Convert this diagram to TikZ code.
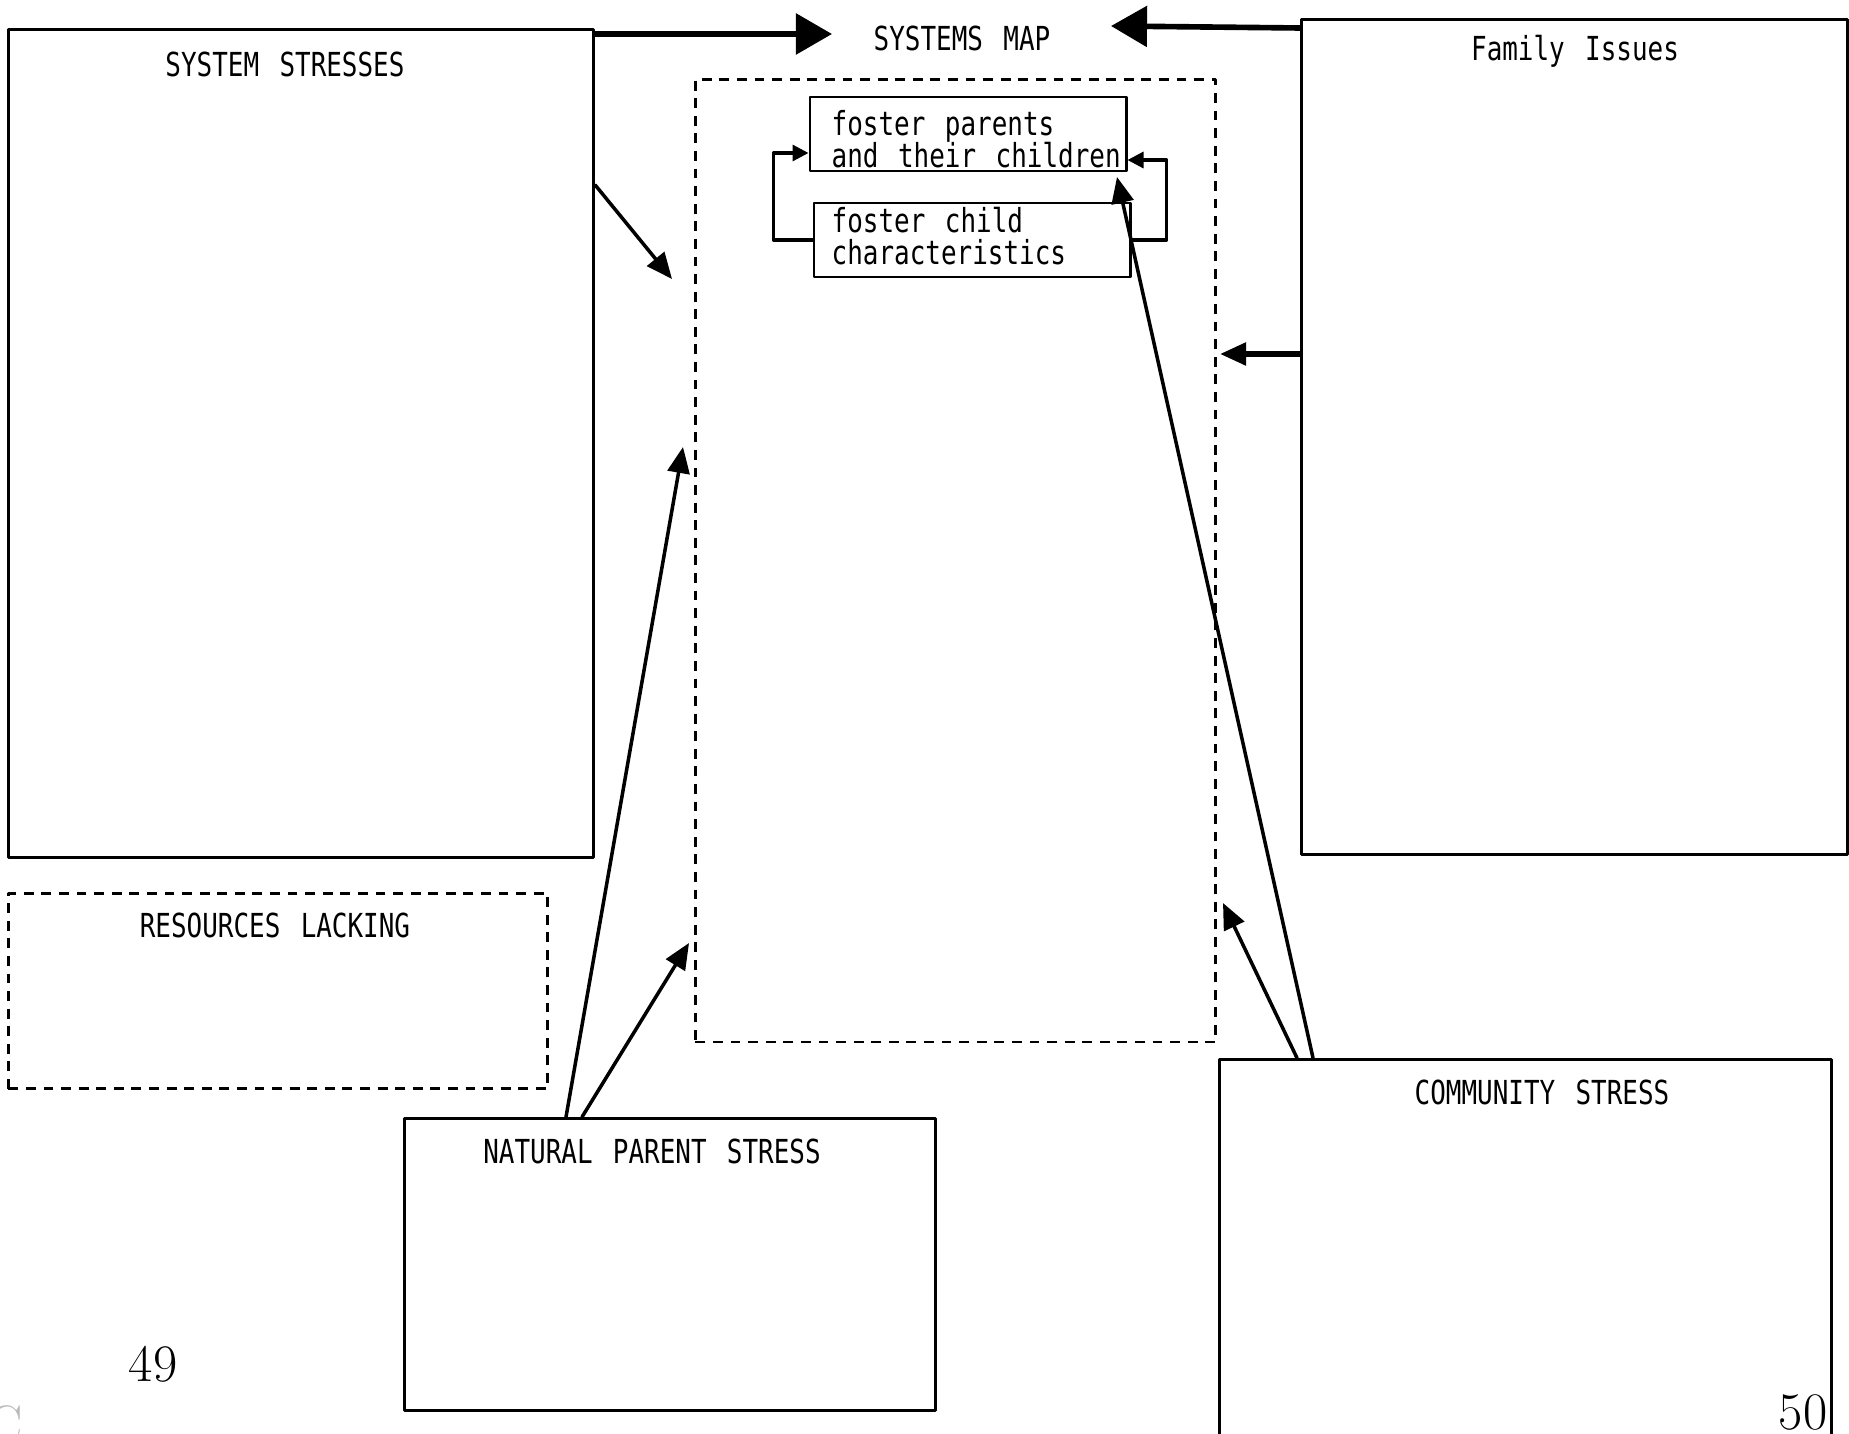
\documentclass[tikz,border=0pt]{standalone}
\usepackage{fontspec}
\newfontfamily\typer[FakeStretch=0.785]{DejaVu Sans Mono}
\usetikzlibrary{arrows.meta,positioning}
\tikzset{
  every picture/.style={line join=round, line cap=round, >=Stealth},
  box/.style={draw, line width=0.8pt, inner sep=0pt, anchor=north west},
  dashbox/.style={box, line cap=butt, dash pattern=on 2.8pt off 2.2pt},
  lbl/.style={font={\typer\fontsize{9.4}{9.4}\selectfont\spaceskip=1.3\fontdimen2\font}, inner sep=0pt},
  inbox/.style={draw, line width=0.8pt, inner sep=0pt, minimum width=3.16cm, minimum height=0.74cm},
  intext/.style={font={\typer\fontsize{9.4}{9.1}\selectfont\lineskiplimit=-10pt\spaceskip=1.25\fontdimen2\font}, inner sep=0pt, align=left, anchor=west},
  bigarrow/.style={line width=1.6pt, -{Triangle[length=0.36cm,width=0.4cm]}},
  arr/.style={line width=1pt, -{Triangle[length=0.26cm,width=0.22cm]}},
  fbline/.style={line width=0.9pt, -{Triangle[length=0.16cm,width=0.16cm]}},
  pagenum/.style={font=\fontsize{15}{15}\selectfont, inner sep=0pt},
}

\begin{document}
\begin{tikzpicture}[x=0.01cm,y=-0.01cm]
\useasboundingbox (0,0) rectangle (1849,1434);
\clip (0,0) rectangle (1849,1434);
% outer boxes
\node[box, minimum width=5.85cm, minimum height=8.28cm] (ss) at (7,28) {};
\node[box, minimum width=5.46cm, minimum height=8.35cm] (fi) at (1300,18) {};
\node[dashbox, minimum width=5.20cm, minimum height=9.62cm] (map) at (694,78) {};
\node[dashbox, minimum width=5.39cm, minimum height=1.95cm] (rl) at (7,892) {};
\node[box, minimum width=5.31cm, minimum height=2.92cm] (np) at (403,1117) {};
\node[box, minimum width=6.12cm, minimum height=4.2cm] (cs) at (1218,1058) {};
% titles
\node[lbl] (title) at (962,38) {SYSTEMS MAP};
\node[lbl] (tss) at (285,64) {SYSTEM STRESSES};
\node[lbl] (tfi) at (1575,51) {Family Issues};
\node[lbl] (trl) at (275,925) {RESOURCES LACKING};
\node[lbl] (tnp) at (652,1151) {NATURAL PARENT STRESS};
\node[lbl] (tcs) at (1542,1092) {COMMUNITY STRESS};
% inner boxes
\node[inbox] (fp) at (968,134) {};
\node[inbox] (fc) at (972,240) {};
\node[intext] (tfp) at (831,139) {foster parents\\and their children};
\node[intext] (tfc) at (831,236) {foster child\\characteristics};
\draw[fbline] (fc.west) -- ++(-39,0) |- ([yshift=-0.19cm]fp.west);
\draw[fbline] (fc.east) -- ++(35,0) |- ([yshift=-0.26cm]fp.east);
% arrow ends
\coordinate (tipL) at (832,34);
\coordinate (tipR) at (1111,26);
\coordinate (a3) at (672,279);
\coordinate (a4) at (1220,354);
\coordinate (a5) at (683,447);
\coordinate (a6) at (689,943);
\coordinate (a7) at (1223,903);
\coordinate (a8) at (1117,177);
\draw[bigarrow] (ss.east |- tipL) -- (tipL);
\draw[bigarrow] (fi.west |- 0,28) -- (tipR);
\draw[arr] (ss.east |- 0,185) -- (a3);
\draw[arr, line width=1.5pt] (fi.west |- a4) -- (a4);
\draw[arr] (np.north -| 566,0) -- (a5);
\draw[arr] (np.north -| 582,0) -- (a6);
\draw[arr] (cs.north -| 1297,0) -- (a7);
\draw[arr] (cs.north -| 1313,0) -- (a8);
% page numbers
\node[pagenum] (p49) at (153,1364) {49};
\node[pagenum] (p50) at (1803,1412) {50};
\node[pagenum, text=gray!55] (wm) at (5,1424) {C};
\end{tikzpicture}
\end{document}
